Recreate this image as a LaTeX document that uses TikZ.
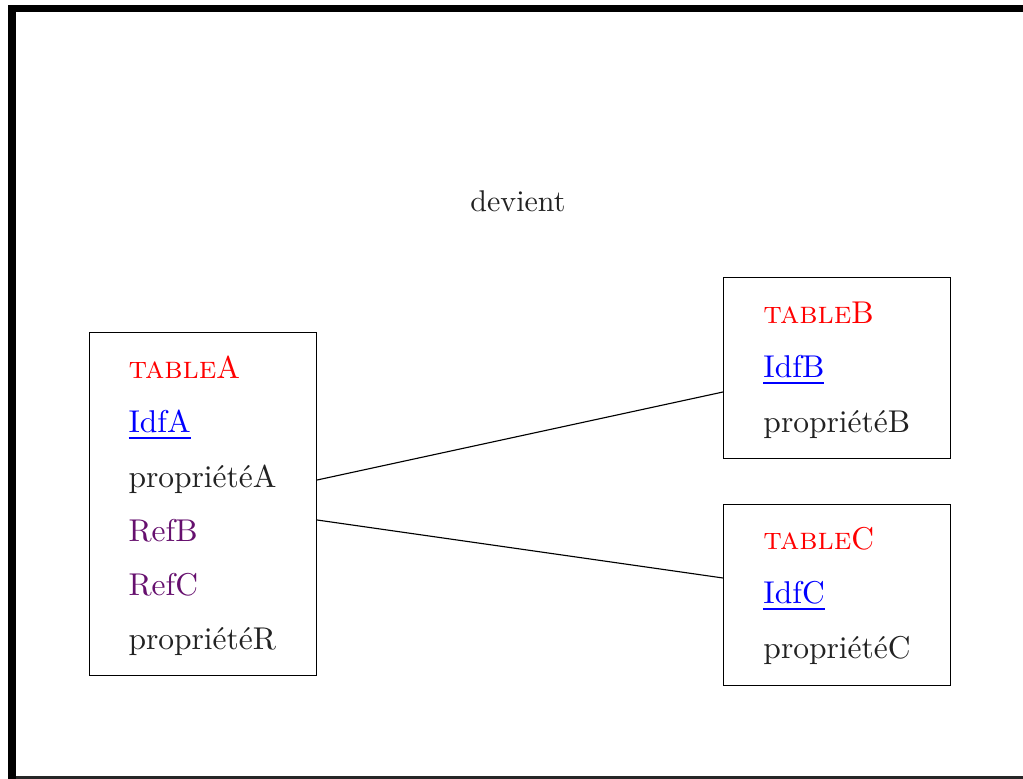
\documentclass[tikz,border=0pt]{standalone}
\usepackage{xcolor}
\usepackage{graphicx}
\definecolor{txt}{RGB}{34,34,34}
\definecolor{refc}{RGB}{102,16,110}
\newcommand{\bigtxt}[1]{\scalebox{1.26}{\fontsize{10}{12}\selectfont #1}}
\newcommand{\devtxt}[1]{\scalebox{1.2}{\fontsize{10}{12}\selectfont #1}}
\newsavebox{\ulbox}
\newcommand{\ulidf}[1]{\sbox{\ulbox}{#1}\rlap{\rule[-1.75pt]{\wd\ulbox}{0.6pt}}\usebox{\ulbox}}
\begin{document}
\begin{tikzpicture}[x=0.4pt,y=-0.4pt,
  tbox/.style={draw=black,line width=0.45pt},
  lbl/.style={anchor=base west,inner sep=0pt,text=txt},
  ttl/.style={lbl,text=red},
  idf/.style={lbl,text=blue},
  refl/.style={lbl,text=refc},
  link/.style={draw=black,line width=0.45pt}]
\useasboundingbox (0,0) rectangle (1023,779);
% frame
\fill[black] (8,5) rectangle (1023,12);
\fill[black] (8,5) rectangle (16,779);
\fill[black!85] (16,776.5) rectangle (1023,779);
% devient
\node[lbl,anchor=base] (dev) at (518,212) {\devtxt{devient}};
% boxes
\node[tbox,minimum width=227*0.4pt,minimum height=343*0.4pt,anchor=north west,inner sep=0pt] (A) at (89,332) {};
\node[tbox,minimum width=227*0.4pt,minimum height=181*0.4pt,anchor=north west,inner sep=0pt] (B) at (723,277) {};
\node[tbox,minimum width=227*0.4pt,minimum height=181*0.4pt,anchor=north west,inner sep=0pt] (C) at (723,504) {};
% table A
\node[ttl] (a1) at (128,379) {\bigtxt{\textsc{table}A}};
\node[idf] (a2) at (128,433) {\bigtxt{\ulidf{IdfA}}};
\node[lbl] (a3) at (128,488) {\bigtxt{propriétéA}};
\node[refl] (a4) at (128,542) {\bigtxt{RefB}};
\node[refl] (a5) at (128,596) {\bigtxt{RefC}};
\node[lbl] (a6) at (128,650) {\bigtxt{propriétéR}};
% table B
\node[ttl] (b1) at (763,324) {\bigtxt{\textsc{table}B}};
\node[idf] (b2) at (763,378) {\bigtxt{\ulidf{IdfB}}};
\node[lbl] (b3) at (763,433) {\bigtxt{propriétéB}};
% table C
\node[ttl] (c1) at (763,550) {\bigtxt{\textsc{table}C}};
\node[idf] (c2) at (763,604) {\bigtxt{\ulidf{IdfC}}};
\node[lbl] (c3) at (763,659) {\bigtxt{propriétéC}};
% connectors
\coordinate (pA1) at (A.east |- 0,480);
\coordinate (pA2) at (A.east |- 0,520);
\coordinate (pB) at (B.west |- 0,392);
\coordinate (pC) at (C.west |- 0,578);
\draw[link] (pA1) -- (pB);
\draw[link] (pA2) -- (pC);
\end{tikzpicture}
\end{document}
